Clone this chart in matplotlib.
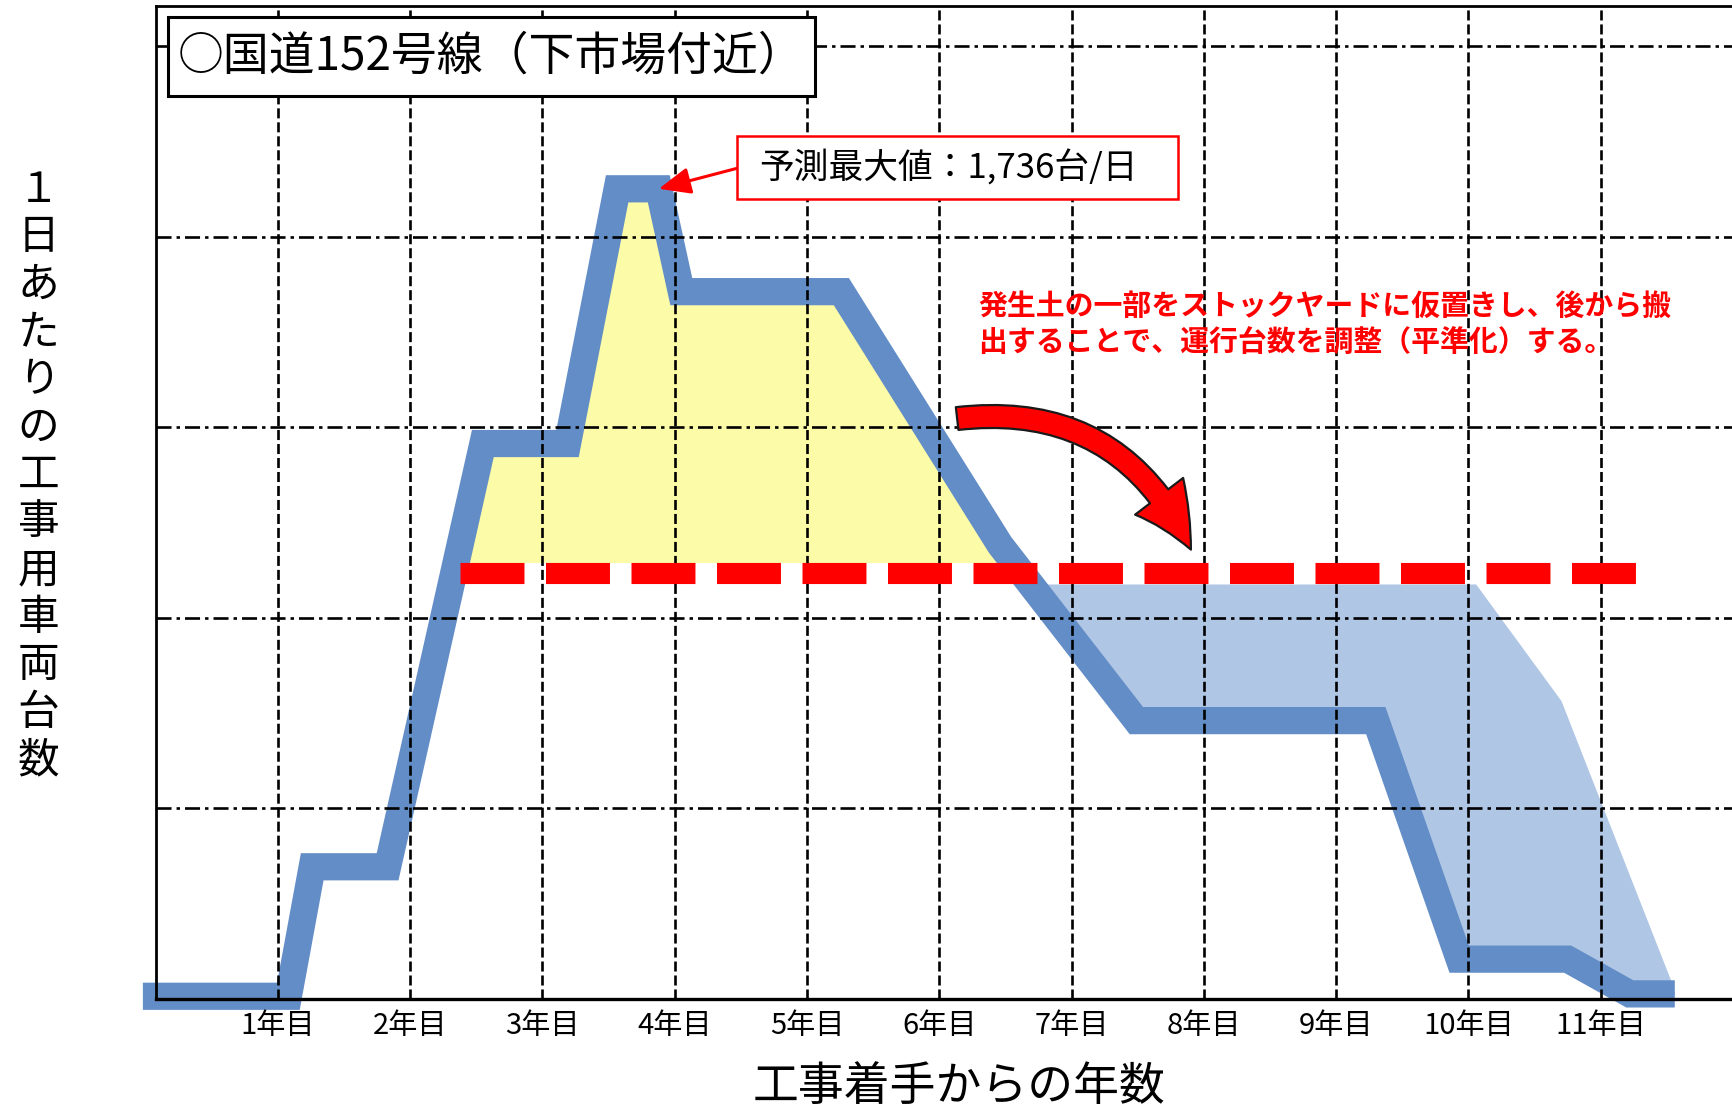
import numpy as np
import matplotlib
matplotlib.use("Agg")
import matplotlib.pyplot as plt
from matplotlib.patches import Rectangle, FancyArrowPatch

plt.rcParams['font.family'] = ['Noto Sans CJK JP', 'DejaVu Sans']

# 工事用車両台数（予測）: 着手からの年数 / 台/日
years = [-0.02, 1.08, 1.26, 1.83, 2.55, 3.19, 3.565, 3.88, 4.05, 5.26,
         6.46, 7.49, 9.30, 9.93, 10.75, 11.22, 11.56]
forecast = [5, 5, 277, 277, 1166, 1166, 1701, 1701, 1485, 1485,
            953, 584, 584, 83, 83, 10, 10]

# 平準化後（ストックヤードから後で搬出する分の上側）
level_years = [5.0, 10.055, 10.70, 11.53, 11.56]
level = [871, 871, 626, 38, 10]

cap = 895                 # 平準化後の上限（赤破線）
cap_years = [2.38, 11.29]
excess_floor = 916        # 黄色部分の下端

xtick_years = list(range(1, 12))
xtick_labels = [f'{i}年目' for i in xtick_years]
ygrid = [400, 800, 1200, 1600, 2000]

title = '○国道152号線（下市場付近）'
peak_label = '予測最大値：1,736台/日'
note_lines = ['発生土の一部をストックヤードに仮置きし、後から搬',
              '出することで、運行台数を調整（平準化）する。']
ylabel_chars = '１日あたりの工事用車両台数'
xlabel = '工事着手からの年数'

BAND = '#638dc7'
LIGHT = '#b0c6e5'
YELLOW = '#fcfba8'
RED = '#ff0000'

fig = plt.figure(figsize=(17.33, 11.09), dpi=100)
ax = fig.add_axes([0.0900, 0.0995, 0.9100, 0.8951])
ax.set_xlim(0.079, 12.0)
ax.set_ylim(0, 2085)

# yellow: amount above the cap
fc = np.array(forecast)
ax.fill_between(years, excess_floor, fc, where=fc > excess_floor,
                interpolate=True, color=YELLOW, lw=0, zorder=1)

# light blue: deferred amount
x_all = np.array(sorted(set(level_years) | {x for x in years if x >= 5.0}))
f_all = np.interp(x_all, years, forecast)
p_all = np.interp(x_all, level_years, level)
ax.fill_between(x_all, f_all, p_all, where=p_all > f_all,
                interpolate=True, color=LIGHT, lw=0, zorder=1)

# thick forecast band
ax.plot(years, forecast, color=BAND, lw=19.6, solid_joinstyle='miter',
        solid_capstyle='butt', zorder=2, clip_on=False)

# cap line
ax.plot(cap_years, [cap, cap], color=RED, lw=15.2, dashes=(3.03, 1.02),
        dash_capstyle='butt', zorder=3)

# grid / axes
ax.set_axisbelow(False)
ax.set_xticks(xtick_years)
ax.set_xticklabels(xtick_labels)
ax.set_yticks(ygrid)
ax.set_yticklabels([])
ax.tick_params(axis='x', length=0, pad=9, labelsize=21)
ax.tick_params(axis='y', length=0)
ax.grid(axis='x', color='black', lw=1.9, ls=(0, (3.8, 1.5)))
ax.grid(axis='y', color='black', lw=1.9, ls=(0, (5.7, 1.9, 1.3, 1.9)))
ax.spines['right'].set_visible(False)
for s in ['left', 'top']:
    ax.spines[s].set_linewidth(2)
ax.spines['bottom'].set_linewidth(2.4)

# title box
fig.patches.append(Rectangle((0.0969, 0.9133), 0.3731, 0.0718, transform=fig.transFigure,
                             facecolor='white', edgecolor='black', lw=2.2, zorder=5))
fig.text(0.2835, 0.949, title, fontsize=33, ha='center', va='center', zorder=6)

# peak annotation
fig.patches.append(Rectangle((0.4254, 0.8205), 0.2545, 0.0568, transform=fig.transFigure,
                             facecolor='white', edgecolor=RED, lw=1.8, zorder=5))
fig.text(0.4381, 0.8485, peak_label, fontsize=25, ha='left', va='center', zorder=6)
ipk = int(np.argmax(forecast)) + 1
ax.annotate('', xy=(years[ipk], forecast[ipk]), xycoords='data',
            xytext=(0.4252, 0.8482), textcoords='figure fraction',
            arrowprops=dict(arrowstyle='-|>,head_length=0.97,head_width=0.41',
                            mutation_scale=20, color=RED, lw=2.2,
                            shrinkA=0, shrinkB=0), zorder=6)

# red note
fig.text(0.5644, 0.7238, note_lines[0], fontsize=20.8, fontweight='bold',
         color=RED, ha='left', va='center')
fig.text(0.5644, 0.6909, note_lines[1], fontsize=20.8, fontweight='bold',
         color=RED, ha='left', va='center')

# curved arrow
arr = FancyArrowPatch((0.5523, 0.6226), (0.6872, 0.5044), transform=fig.transFigure,
                      connectionstyle='arc3,rad=-0.36',
                      arrowstyle='simple,head_length=1.49,head_width=1.45,tail_width=0.55',
                      mutation_scale=30, facecolor=RED, edgecolor='#1a1a1a',
                      lw=1.6, shrinkA=0, shrinkB=0, zorder=6)
fig.patches.append(arr)

# axis labels
for i, ch in enumerate(ylabel_chars):
    fig.text(0.0223, 1 - (172 + 43 * i) / 1003, ch, fontsize=30,
             ha='center', va='center')
fig.text(0.5536, 0.0199, xlabel, fontsize=33, ha='center', va='center')

fig.savefig('out.png', dpi=100)
